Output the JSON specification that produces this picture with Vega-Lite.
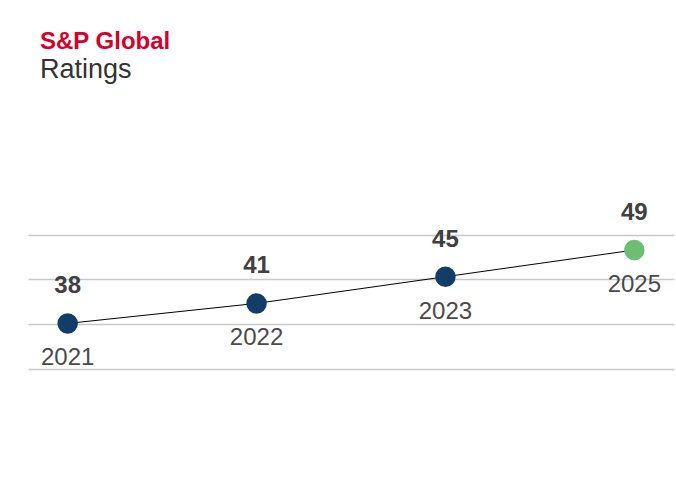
{
  "$schema": "https://vega.github.io/schema/vega-lite/v6.json",
  "width": 646,
  "height": 200,
  "autosize": {"type": "none"},
  "padding": {"left": 28, "top": 200, "right": 2, "bottom": 87},
  "background": "white",
  "config": {"view": {"stroke": null}, "font": "Liberation Sans"},
  "title": {
    "text": "S&P Global",
    "subtitle": "Ratings",
    "anchor": "start",
    "frame": "group",
    "dx": 12,
    "offset": 117,
    "font": "Liberation Sans",
    "fontSize": 24,
    "fontWeight": "bold",
    "color": "#d6002a",
    "subtitleFont": "Liberation Sans",
    "subtitleFontSize": 27,
    "subtitleColor": "#333333",
    "subtitlePadding": 3
  },
  "data": {
    "values": [
      {"year": "2021", "score": 38},
      {"year": "2022", "score": 41},
      {"year": "2023", "score": 45},
      {"year": "2025", "score": 49}
    ]
  },
  "encoding": {
    "x": {"field": "year", "type": "ordinal", "scale": {"type": "point", "padding": 0.21}, "axis": null},
    "y": {
      "field": "score",
      "type": "quantitative",
      "scale": {"domain": [26.53, 56.49], "nice": false, "zero": false},
      "axis": {
        "values": [31.2, 37.9, 44.6, 51.3],
        "labels": false,
        "ticks": false,
        "domain": false,
        "grid": true,
        "gridColor": "#c8c8c8",
        "gridWidth": 1.5,
        "title": null
      }
    }
  },
  "layer": [
    {"mark": {"type": "line", "color": "#000000", "strokeWidth": 1}},
    {
      "mark": {"type": "point", "filled": true, "size": 420, "opacity": 1},
      "encoding": {
        "color": {
          "field": "year",
          "type": "nominal",
          "scale": {"domain": ["2021", "2022", "2023", "2025"], "range": ["#133d66", "#133d66", "#133d66", "#6dbd72"]},
          "legend": null
        }
      }
    },
    {
      "mark": {"type": "text", "dy": -37, "fontSize": 24, "fontWeight": "bold", "color": "#404040"},
      "encoding": {"text": {"field": "score", "type": "quantitative"}}
    },
    {
      "mark": {"type": "text", "dy": 35, "fontSize": 24, "color": "#4a4a4a"},
      "encoding": {"text": {"field": "year", "type": "nominal"}}
    }
  ]
}
